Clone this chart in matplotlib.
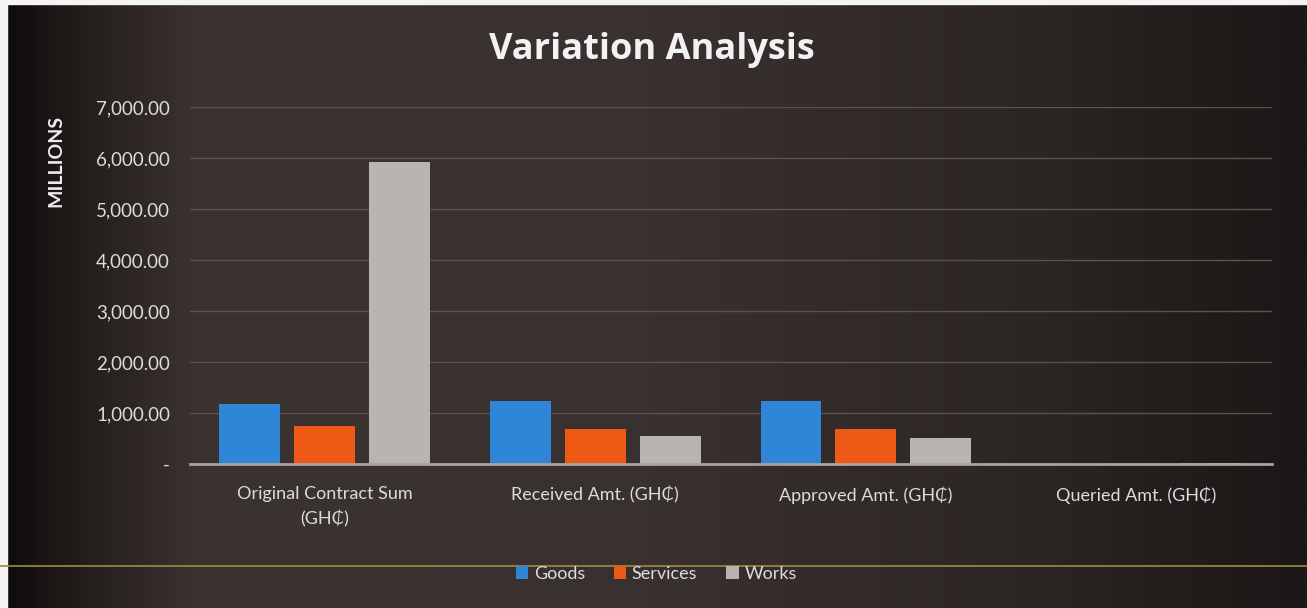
import numpy as np
import matplotlib
matplotlib.use('Agg')
from matplotlib import pyplot as plt
from matplotlib.ticker import FuncFormatter
from matplotlib.colors import LinearSegmentedColormap

plt.rcParams['font.family'] = ['Lato', 'DejaVu Sans']

categories = ['Original Contract Sum\n(GH\u20b5)', 'Received Amt. (GH\u20b5)',
              'Approved Amt. (GH\u20b5)', 'Queried Amt. (GH\u20b5)']
series = ['Goods', 'Services', 'Works']
goods = [1180, 1235, 1240, 4]
services = [745, 685, 690, 3]
works = [5920, 550, 510, 12]
colors = ['#2f86d6', '#ee5a16', '#b9b3b1']

fig = plt.figure(figsize=(13.07, 6.08), dpi=100)

# dark background, lighter in the middle-left like the photo
bg = fig.add_axes([0, 0, 1, 1], zorder=-10)
shade = np.vstack([np.linspace(0, 1, 512)] * 2)
cmap = LinearSegmentedColormap.from_list('bg', [(0, '#0d0a0a'), (0.03, '#1a1514'), (0.15, '#3b3330'),
                                               (0.5, '#39312f'), (0.8, '#2b2523'), (1, '#1b1716')])
bg.imshow(shade, aspect='auto', cmap=cmap, extent=[0, 1, 0, 1])
bg.axvspan(0, 0.005, color='#f4f4f4')
bg.axhspan(0.993, 1, color='#f4f4f4')
bg.axhline(0.069, color='#a08a40', lw=1.2)
bg.set_xlim(0, 1)
bg.set_ylim(0, 1)
bg.axis('off')

ax = fig.add_axes([0.145, 0.237, 0.828, 0.587])
ax.patch.set_alpha(0)

x = np.arange(len(categories))
w = 0.225
step = 0.277
for i, (name, vals) in enumerate(zip(series, [goods, services, works])):
    ax.bar(x + (i - 1) * step, vals, w, color=colors[i], label=name, zorder=3)

ax.set_xlim(-0.5, len(categories) - 0.5)
ax.set_ylim(0, 7000)
ax.set_yticks(np.arange(0, 7001, 1000))
ax.yaxis.set_major_formatter(FuncFormatter(lambda v, p: '-' if v == 0 else '{:,.2f}'.format(v)))
ax.set_xticks(x)
ax.set_xticklabels(categories, linespacing=1.6)
ax.tick_params(axis='both', length=0, colors='#dcdcdc', labelsize=13.5)
ax.tick_params(axis='x', pad=16, labelsize=13)
ax.tick_params(axis='y', pad=14)
ax.grid(axis='y', color='#5a524f', lw=1, zorder=0)
for s in ['top', 'right', 'left']:
    ax.spines[s].set_visible(False)
ax.spines['bottom'].set_color('#a8a2a0')
ax.spines['bottom'].set_linewidth(2)
ax.spines['bottom'].set_zorder(4)

fig.text(0.043, 0.735, 'MILLIONS', rotation=90, ha='center', va='center',
         color='#eeeeee', fontsize=14, fontweight='bold')

fig.text(0.499, 0.917, 'Variation Analysis', ha='center', va='center',
         color='#f2f2f2', fontsize=26, fontweight='bold', family=['Open Sans', 'DejaVu Sans'])

fig.legend(loc='center', bbox_to_anchor=(0.502, 0.056), ncol=3, frameon=False,
           fontsize=13, labelcolor='#dcdcdc', handlelength=0.7, handleheight=0.7,
           handletextpad=0.3, columnspacing=1.6)

plt.savefig('out.png', dpi=100, facecolor=fig.get_facecolor())
